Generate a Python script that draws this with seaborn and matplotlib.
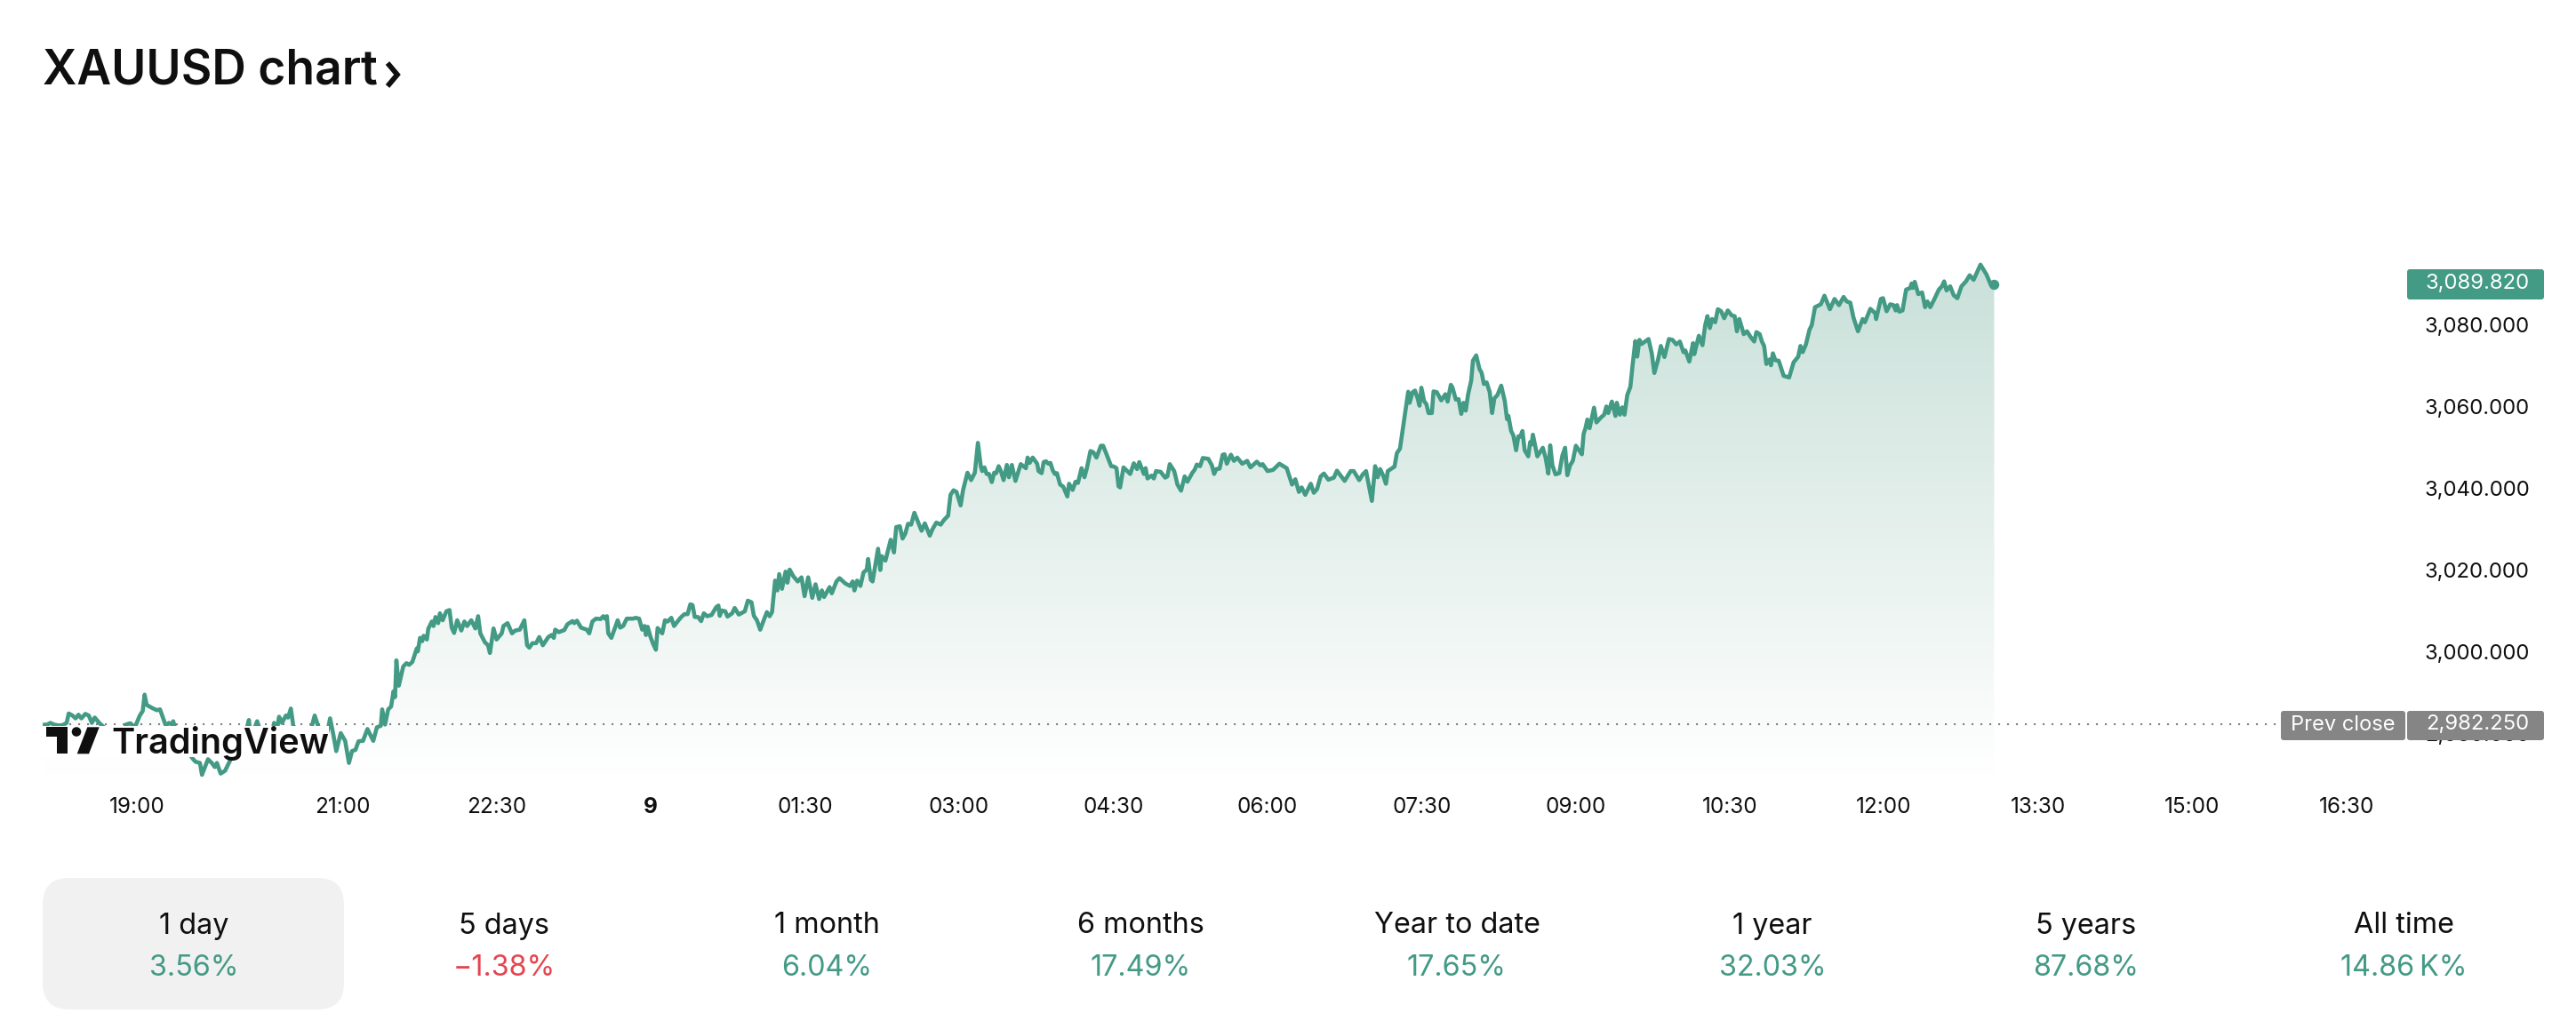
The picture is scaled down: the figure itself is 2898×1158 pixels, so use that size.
import matplotlib
matplotlib.use("Agg")
import matplotlib.pyplot as plt
import numpy as np
import pandas as pd
import seaborn as sns
from matplotlib.colors import LinearSegmentedColormap
from matplotlib.patches import FancyBboxPatch, Rectangle, Circle, Polygon

minutes_after_19h = [
-55.0,-52.3,-50.5,-48.5,-46.2,-43.6,-41.0,-39.8,-37.6,-35.8,-34.1,-32.4,-30.1,-28.1,-26.3,-24.6,-22.0,-19.1,-16.8,-14.2,-10.8,-8.2,-6.4,-3.8,-1.2,
1.7,3.4,4.5,5.7,9.1,11.7,13.5,16.9,18.7,20.4,21.2,23.0,25.6,29.0,32.5,34.2,36.8,38.0,40.3,41.5,43.7,45.5,46.7,48.9,51.5,
55.0,60.2,63.6,65.4,65.7,67.6,70.2,71.4,74.0,76.6,79.2,80.1,81.8,83.0,84.7,87.0,88.2,89.9,91.3,93.9,97.4,100.0,101.7,103.8,105.5,107.2,111.2,112.8,114.7,116.4,119.0,121.6,123.8,125.6,127.6,129.4,132.0,134.6,138.0,140.1,142.4,143.2,144.9,146.7,148.4,149.8,150.7,
151.5,152.9,155.5,157.4,158.9,160.8,163.4,164.0,165.3,166.6,167.4,169.3,170.1,172.2,173.2,174.3,175.9,176.9,178.5,180.7,182.5,183.8,185.2,187.0,189.4,191.2,192.8,195.2,197.6,199.2,200.5,203.2,205.0,206.1,208.2,210.0,213.0,214.0,216.4,219.0,220.9,223.5,226.2,227.8,229.1,230.9,233.1,234.9,237.0,240.2,242.1,243.4,244.2,246.3,249.5,251.3,254.3,255.3,256.9,259.3,262.7,264.1,265.9,268.0,270.7,272.3,273.3,274.4,275.2,277.0,280.7,282.1,283.9,286.0,289.7,291.1,293.2,295.0,296.4,297.2,298.2,299.8,301.4,303.0,304.0,306.7,308.3,309.9,312.0,313.6,316.2,317.8,319.7,321.5,323.1,324.4,325.7,327.6,329.4,331.0,332.9,335.5,338.2,339.5,340.3,341.4,343.5,344.8,347.5,349.0,351.4,354.9,356.7,358.8,360.2,362.0,363.9,365.5,367.8,369.4,370.8,372.6,373.9,375.0,376.6,378.7,379.8,381.1,383.2,385.8,388.0,389.8,391.9,394.3,396.2,398.3,399.9,401.2,404.4,405.7,408.4,410.2,413.6,416.3,417.9,418.9,420.5,422.4,424.2,426.1,426.9,428.5,429.5,432.7,434.0,434.8,437.0,440.1,442.0,443.3,445.4,447.0,448.6,450.2,452.0,453.9,456.0,458.1,460.0,462.9,464.5,
466.7,469.3,471.1,473.6,475.0,476.8,478.5,480.9,482.3,484.9,487.0,489.2,491.0,492.7,493.5,494.8,496.1,497.5,499.1,500.5,501.7,503.1,504.4,506.0,507.9,509.1,510.8,512.9,516.0,519.0,520.0,521.2,523.0,525.6,526.4,528.2,529.4,530.7,532.1,533.3,534.7,535.9,537.1,539.0,540.8,543.2,544.2,546.3,548.0,549.4,551.5,553.2,554.6,556.7,558.4,560.2,562.8,564.1,566.2,568.8,570.5,571.9,573.1,574.0,576.0,
579.9,582.0,583.9,585.2,587.9,588.9,590.0,592.4,593.7,595.0,597.7,600.3,601.6,603.0,605.6,607.5,609.6,611.7,613.3,616.2,617.5,618.8,620.7,622.3,625.5,627.6,628.9,630.2,632.1,633.9,635.0,636.3,638.7,640.5,642.4,645.3,648.2,650.1,653.8,655.9,657.2,660.1,663.3,667.0,671.3,674.4,676.3,678.4,680.0,682.1,685.3,687.1,689.0,691.1,693.0,695.6,698.8,
700.6,705.1,708.6,710.4,713.6,715.7,717.6,721.0,722.9,724.4,725.8,727.6,729.2,730.3,734.2,735.6,737.4,740.9,742.2,743.0,744.8,746.2,747.7,748.8,749.9,751.5,752.8,754.1,756.0,757.0,758.9,761.5,763.9,765.2,767.1,768.1,770.0,771.6,773.2,774.5,775.8,777.1,779.0,780.0,781.9,783.8,785.1,786.4,788.0,789.8,791.2,792.5,794.3,796.5,798.6,799.9,800.7,802.3,803.6,805.2,806.5,807.6,808.9,810.2,812.3,813.4,814.2,815.0,817.6,820.8,822.4,824.0,825.1,826.4,828.2,830.4,832.2,833.8,835.1,836.7,838.3,840.1,843.6,844.6,845.7,846.8,848.1,850.7,852.1,854.7,856.6,857.9,859.0,861.1,863.2,864.0,865.8,867.2,868.5,870.1,871.9,873.2,874.8,875.9,877.2,878.5,882.5,884.4,885.9,888.1,889.7,891.8,894.4,896.5,898.7,900.8,902.9,904.0,906.3,908.5,909.2,911.9,914.0,915.6,916.9,918.3,919.6,921.4,923.0,924.9,926.7,928.8,931.0,932.8,934.1,935.5,938.1,940.0,942.1,944.2,945.5,947.4,948.7,950.0,951.3,953.2,954.0,955.1,956.6,958.5,961.4,964.6,967.2,969.9,971.2,972.5,974.4,976.5,977.8,979.7,983.1,985.2,988.4,991.1,993.7,996.4,998.2,1000.3,1002.2,1004.8,1007.5,1008.8,1012.0,1014.9,1015.4,1018.1,1019.4,1021.5,1023.6,1025.5,1026.8,1027.6,1028.9,1030.8,1032.9,1035.3,1036.1,1036.9,1037.9,1040.0,1042.2,1044.0,1045.3,1047.0,1049.3,1052.0,1053.8,1055.1,1056.5,1058.6,1060.7,1062.8,1065.2,1067.8,1070.0,1072.3,1076.3,1079.8,1082.4,1084.3,
]

price_usd = [
2982.0,2982.1,2982.5,2982.1,2981.9,2981.9,2982.5,2984.8,2984.3,2983.6,2984.5,2983.6,2984.7,2984.3,2982.5,2983.8,2982.5,2981.4,2980.3,2978.5,2977.0,2979.6,2982.1,2982.4,2981.4,
2984.3,2985.4,2989.4,2986.9,2986.1,2985.6,2985.8,2981.8,2982.5,2982.1,2982.9,2980.3,2978.9,2975.9,2973.8,2973.0,2972.7,2969.8,2972.3,2973.6,2972.7,2971.7,2972.7,2970.1,2970.8,
2973.8,2977.4,2980.3,2983.2,2981.8,2980.0,2982.9,2981.4,2979.6,2978.9,2980.7,2982.5,2980.9,2984.0,2982.5,2984.3,2983.8,2986.0,2981.8,2980.3,2979.7,2980.7,2981.0,2984.3,2982.1,2980.3,2980.3,2983.6,2979.6,2975.6,2980.0,2978.1,2972.7,2975.6,2975.9,2978.0,2978.1,2981.0,2978.1,2981.4,2981.8,2985.8,2982.1,2985.8,2986.5,2990.2,2988.8,
2997.8,2991.6,2996.3,2997.1,2996.7,2997.4,3000.7,3000.0,3003.3,3002.5,3003.8,3002.9,3005.5,3007.3,3006.2,3008.4,3006.9,3009.3,3007.6,3009.8,3010.1,3005.8,3004.5,3007.6,3005.1,3007.3,3006.2,3007.6,3005.6,3008.6,3004.4,3002.2,3001.5,2999.6,3005.6,3002.9,3004.4,3006.2,3006.9,3004.4,3005.1,3005.3,3007.6,3001.5,3000.9,3002.0,3002.0,3003.5,3001.5,3003.5,3004.0,3003.3,3005.3,3004.7,3005.2,3006.6,3007.4,3006.9,3007.5,3005.8,3005.3,3004.4,3007.3,3008.0,3007.9,3008.6,3008.0,3008.6,3004.4,3003.3,3007.6,3005.8,3006.2,3008.0,3008.0,3008.2,3008.0,3005.3,3006.2,3004.0,3006.0,3003.6,3001.8,3000.4,3005.7,3004.4,3007.6,3007.3,3008.2,3006.2,3007.6,3008.4,3009.1,3009.1,3011.5,3011.3,3008.4,3008.4,3007.4,3009.3,3008.6,3008.9,3010.8,3011.2,3008.7,3010.0,3009.8,3008.5,3009.3,3010.6,3009.0,3009.8,3012.4,3012.0,3008.7,3007.6,3005.3,3007.1,3009.6,3008.6,3009.6,3017.3,3014.9,3018.9,3015.3,3019.5,3016.8,3020.0,3018.4,3017.1,3018.1,3013.5,3018.1,3013.1,3016.4,3012.8,3014.9,3013.3,3015.7,3014.2,3017.1,3017.9,3016.6,3016.0,3017.1,3014.9,3017.3,3016.0,3019.3,3020.0,3022.6,3017.5,3017.1,3025.1,3019.9,3023.3,3022.2,3027.3,3024.2,3030.4,3030.6,3027.6,3028.8,3031.2,3031.0,3033.9,3031.7,3029.5,3031.3,3028.3,3029.9,
3031.5,3031.0,3032.1,3033.2,3038.3,3039.4,3039.0,3035.7,3039.4,3043.7,3041.9,3043.7,3051.0,3045.2,3044.1,3045.0,3043.4,3043.4,3041.4,3043.7,3043.6,3045.3,3044.1,3041.9,3045.6,3042.6,3045.6,3041.7,3045.8,3044.8,3047.4,3046.1,3047.4,3045.9,3044.1,3043.6,3046.3,3046.5,3045.9,3046.1,3044.3,3043.4,3043.6,3040.8,3040.3,3037.9,3041.0,3039.5,3041.5,3041.2,3044.8,3042.6,3044.8,3049.0,3048.7,3047.4,3050.3,3050.3,3048.1,3045.3,3045.2,3044.8,3040.4,3040.1,3045.0,
3043.4,3046.0,3044.6,3046.3,3043.4,3044.8,3042.3,3043.0,3042.3,3044.1,3043.9,3042.5,3042.8,3045.8,3044.1,3040.8,3039.3,3042.8,3041.5,3043.7,3044.4,3045.7,3045.3,3047.3,3047.1,3045.5,3043.4,3044.6,3044.7,3048.1,3048.2,3045.9,3048.1,3046.6,3047.4,3045.9,3046.6,3045.0,3046.4,3045.5,3045.8,3044.1,3044.4,3045.9,3044.8,3040.8,3042.1,3039.0,3040.1,3038.3,3041.0,3038.8,3039.7,3042.8,3043.5,3042.0,3042.5,
3044.2,3041.7,3044.1,3044.1,3041.9,3043.3,3044.1,3036.8,3045.3,3042.6,3044.6,3043.0,3041.0,3044.1,3045.2,3048.5,3049.6,3059.8,3063.5,3060.8,3063.4,3063.8,3061.9,3060.1,3064.5,3061.2,3060.5,3058.3,3058.3,3063.6,3063.4,3061.4,3062.9,3061.1,3065.2,3064.5,3061.6,3061.7,3058.1,3060.8,3058.9,3062.7,3066.3,3071.1,3072.4,3069.1,3068.1,3065.4,3065.8,3063.4,3058.3,3061.9,3062.7,3065.0,3061.2,3056.8,3057.6,3053.9,3052.8,3049.2,3052.6,3052.5,3053.9,3049.2,3047.7,3051.2,3050.6,3053.0,3047.7,3049.8,3047.4,3043.5,3050.4,3045.5,3043.3,3043.6,3047.9,3049.8,3043.1,3045.5,3046.6,3050.3,3048.2,3053.2,3054.6,3056.7,3054.6,3059.6,3056.0,3057.2,3057.9,3059.9,3058.3,3061.1,3057.6,3060.8,3057.9,3059.7,3057.9,3062.7,3064.7,3070.0,3075.9,3072.1,3076.2,3075.2,3076.4,3072.9,3068.1,3071.4,3074.7,3072.0,3076.4,3076.2,3075.1,3075.8,3073.2,3073.6,3070.9,3075.4,3072.7,3077.2,3074.9,3079.8,3082.0,3079.1,3081.3,3080.5,3083.7,3083.2,3081.5,3083.4,3082.2,3082.0,3078.3,3081.3,3077.6,3078.3,3076.9,3075.8,3078.1,3077.6,3075.8,3074.7,3070.3,3071.4,3070.0,3072.9,3071.2,3071.1,3067.4,3067.0,3070.7,3072.1,3074.7,3073.2,3075.1,3078.7,3079.8,3084.2,3084.9,3087.0,3083.7,3086.2,3084.7,3086.7,3085.6,3085.3,3081.6,3078.3,3081.3,3080.5,3083.8,3082.7,3081.3,3086.2,3086.4,3083.2,3084.9,3084.7,3083.4,3084.7,3083.1,3083.4,3088.5,3088.9,3090.0,3088.9,3090.4,3087.4,3087.8,3084.2,3085.6,3084.2,3086.1,3088.5,3089.3,3090.5,3088.3,3089.3,3087.1,3086.4,3089.3,3090.5,3092.0,3090.9,3094.6,3092.2,3089.6,3089.82,
]

n = min(len(minutes_after_19h), len(price_usd))
minutes_after_19h = minutes_after_19h[:n]
price_usd = price_usd[:n]

prev_close = 2982.25
last_price = 3089.82
x_tick_minutes = [0, 120, 210, 300, 390, 480, 570, 660, 750, 840, 930, 1020, 1110, 1200, 1290]
x_tick_labels = ["19:00", "21:00", "22:30", "9", "01:30", "03:00", "04:30", "06:00", "07:30",
                 "09:00", "10:30", "12:00", "13:30", "15:00", "16:30"]
y_ticks = [2980, 3000, 3020, 3040, 3060, 3080]
tab_names = ["1 day", "5 days", "1 month", "6 months", "Year to date", "1 year", "5 years", "All time"]
tab_values = ["3.56%", "\u22121.38%", "6.04%", "17.49%", "17.65%", "32.03%", "87.68%", "14.86\u202fK%"]

GREEN = "#439A85"
RED = "#E5454F"
INK = "#0F0F0F"
GREY = "#858585"

W, H = 2898, 1158
sns.set_theme(style="white")
plt.rcParams["font.family"] = ["Inter", "DejaVu Sans"]

fig = plt.figure(figsize=(W / 100, H / 100), dpi=100, facecolor="white")
L, R, T, B = 48, 2700, 220, 880
PX0, PXU = 733.0, 4.60
ax = fig.add_axes([L / W, 1 - B / H, (R - L) / W, (B - T) / H])
ax.patch.set_alpha(0)

df = pd.DataFrame({"minutes": minutes_after_19h, "price": price_usd})

xlim = ((L - 154) / 1.927, (R - 154) / 1.927)
ylim = (3000 + (PX0 - B) / PXU, 3000 + (PX0 - T) / PXU)

cmap = LinearSegmentedColormap.from_list("fade", ["#ffffff", "#c9e0d9"])
grad = np.linspace(1, 0, 256).reshape(-1, 1)
img = ax.imshow(grad, cmap=cmap, aspect="auto", zorder=1, vmin=0, vmax=1,
                extent=[df.minutes.min(), df.minutes.max(), 3000 + (PX0 - 872) / PXU, df.price.max()])
ax.set_xlim(*xlim)
ax.set_ylim(*ylim)
poly = ax.fill_between(df.minutes, df.price, ylim[0], color="none", lw=0)
img.set_clip_path(poly.get_paths()[0], transform=ax.transData)

ax.hlines(prev_close, df.minutes.min(), (2566 - 154) / 1.927, color="#7f7f7f", lw=1.5,
          linestyles=(0, (1.0, 3.8)), zorder=2)
sns.lineplot(data=df, x="minutes", y="price", estimator=None, sort=False, color=GREEN,
             linewidth=3.3, ax=ax, zorder=3, solid_joinstyle="round", legend=False)
ax.scatter([df.minutes.iloc[-1]], [last_price], s=68, color=GREEN, zorder=4, linewidths=0)

ax.set_xlabel("")
ax.set_ylabel("")
for s in ax.spines.values():
    s.set_visible(False)
ax.grid(False)
ax.yaxis.tick_right()
ax.set_xticks(x_tick_minutes, x_tick_labels)
ax.set_yticks(y_ticks, [f"{v:,.3f}" for v in y_ticks])
ax.tick_params(axis="x", length=0, pad=12, labelsize=17.5, colors=INK)
ax.tick_params(axis="y", length=0, pad=20, labelsize=17.2, colors=INK)
for lab in ax.get_xticklabels():
    if lab.get_text() == "9":
        lab.set_fontweight("bold")

# overlay in pixel space for page furniture
ov = fig.add_axes([0, 0, 1, 1], facecolor="none")
ov.set_xlim(0, W)
ov.set_ylim(H, 0)
ov.axis("off")

ov.text(48, 96, "XAUUSD chart", fontsize=38.4, fontweight="semibold", color=INK, va="baseline", ha="left")
ov.plot([436, 447, 436], [71, 84, 97], color=INK, lw=4.2, solid_joinstyle="miter", solid_capstyle="butt")


def pill(x0, x1, y0, y1, color, rad=3):
    ov.add_patch(FancyBboxPatch((x0 + rad, y0 + rad), x1 - x0 - 2 * rad, y1 - y0 - 2 * rad,
                                boxstyle=f"round,pad={rad},rounding_size={rad}", fc=color, ec="none"))


pill(2708, 2862, 303, 337, GREEN)
pill(2566, 2706, 800, 833, GREY)
pill(2708, 2862, 800, 833, GREY)
ov.text(2787, 319, f"{last_price:,.3f}", color="white", fontsize=17.2, ha="center", va="center")
ov.text(2787, 815, f"{prev_close:,.3f}", color="white", fontsize=17.2, ha="center", va="center")
ov.text(2636, 816, "Prev close", color="white", fontsize=17, ha="center", va="center")

# TradingView logo
ov.add_patch(Rectangle((48, 817), 322, 35, fc="white", ec="none"))
ov.add_patch(Polygon([(52, 818.3), (76, 818.3), (76, 848.3), (64, 848.3), (64, 829.3), (52, 829.3)], fc=INK, ec="none"))
ov.add_patch(Circle((86, 823.5), 5.3, fc=INK, ec="none"))
ov.add_patch(Polygon([(98.3, 818.3), (111.7, 818.3), (100, 848.3), (86.7, 848.3)], fc=INK, ec="none"))
ov.text(125, 848.3, "TradingView", fontsize=28.6, fontweight="semibold", color=INK, va="baseline", ha="left")

# period tabs
pill(48, 387, 988, 1136, "#F1F1F1", rad=30)
tab_x = [218, 567, 930, 1283, 1639, 1994, 2347, 2704]
for x, name, val in zip(tab_x, tab_names, tab_values):
    ov.text(x, 1042, name, fontsize=23.3, color=INK, ha="center", va="center")
    ov.text(x, 1090, val, fontsize=23.3, color=RED if val.startswith("\u2212") else GREEN, ha="center", va="center")

fig.savefig("out.png", dpi=100, facecolor="white")
